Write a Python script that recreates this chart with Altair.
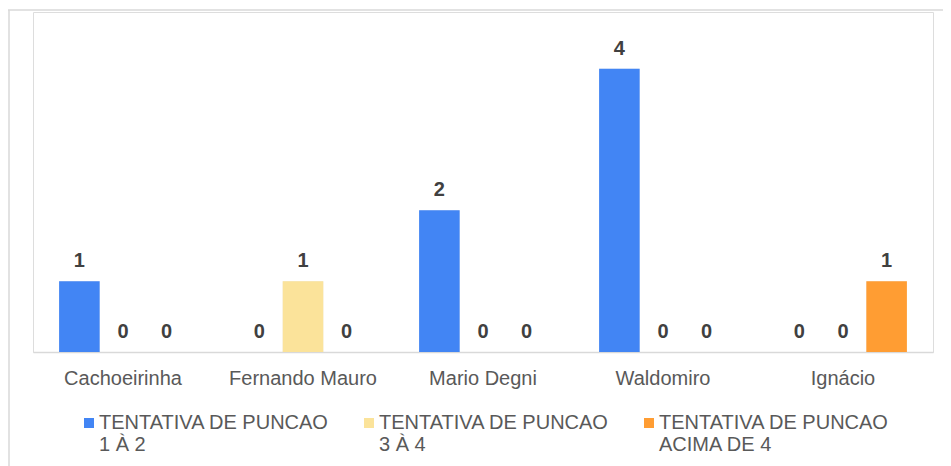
import altair as alt
import pandas as pd

categories = ["Cachoeirinha", "Fernando Mauro", "Mario Degni", "Waldomiro", "Ignácio"]
series = ["TENTATIVA DE PUNCAO|1 À 2", "TENTATIVA DE PUNCAO|3 À 4", "TENTATIVA DE PUNCAO|ACIMA DE 4"]
values_1a2 = [1, 0, 2, 4, 0]
values_3a4 = [0, 1, 0, 0, 0]
values_acima4 = [0, 0, 0, 0, 1]
colors = ["#4285F4", "#FBE39A", "#FF9D33"]

rows = []
for s, vals in zip(series, [values_1a2, values_3a4, values_acima4]):
    for c, v in zip(categories, vals):
        rows.append({"cat": c, "series": s, "value": v})
df = pd.DataFrame(rows)

FONT = "Liberation Sans"

x_enc = alt.X(
    "cat:N", sort=categories,
    scale=alt.Scale(paddingInner=0.29, paddingOuter=0.145),
    axis=alt.Axis(title=None, labelAngle=0, ticks=False, domainColor="#d9d9d9",
                  domainWidth=1.5, labelFontSize=20, labelColor="#595959",
                  labelPadding=16, labelFont=FONT),
)
xo_enc = alt.XOffset("series:N", sort=series, scale=alt.Scale(paddingInner=0.07))
y_enc = alt.Y("value:Q", scale=alt.Scale(domain=[0, 4.8]), axis=None)

base = alt.Chart(df).encode(x=x_enc, xOffset=xo_enc, y=y_enc)

shadow = base.mark_bar(color="#000000", opacity=0.08, xOffset=3)

bars = base.mark_bar().encode(
    color=alt.Color(
        "series:N", sort=series,
        scale=alt.Scale(domain=series, range=colors),
        legend=alt.Legend(
            title=None, orient="none", legendX=46, legendY=401,
            direction="horizontal", columns=3, columnPadding=29,
            symbolType="square", symbolSize=100, symbolStrokeWidth=0,
            labelFontSize=20, labelColor="#595959", labelFont=FONT,
            labelOffset=0, labelLimit=500, padding=0,
            labelExpr="[split(datum.label, '|')[0], '\u00a0' + split(datum.label, '|')[1]]",
        ),
    )
)

text = base.mark_text(dy=-20, fontSize=20, fontWeight="bold", color="#404040", font=FONT).encode(
    text="value:Q"
)

one = pd.DataFrame({"a": [0]})
top_border = alt.Chart(one).mark_rule(color="#d9d9d9", strokeWidth=1.5).encode(
    x=alt.value(-25), x2=alt.value(920), y=alt.value(-2)
)
left_border = alt.Chart(one).mark_rule(color="#d9d9d9", strokeWidth=1.5).encode(
    x=alt.value(-24), y=alt.value(-2), y2=alt.value(460)
)

chart = alt.layer(top_border, left_border, shadow, bars, text).properties(
    width=900, height=340,
    autosize=alt.AutoSizeParams(type="none"),
    padding={"left": 25, "top": 4, "right": 10, "bottom": 114},
).configure_view(stroke=None).configure(background="white")

chart.save("out.html", embed_options={"renderer": "svg", "actions": False})
